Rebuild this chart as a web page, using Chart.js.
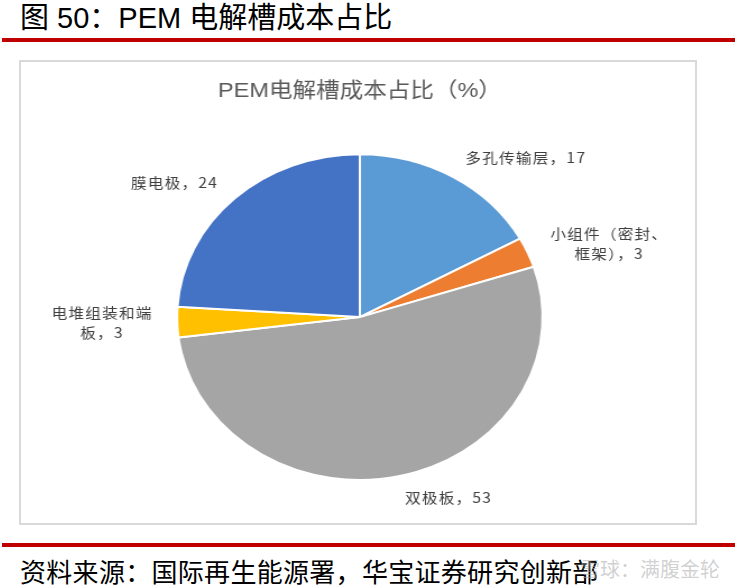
<!DOCTYPE html>
<html>
<head>
<meta charset="utf-8">
<script src="https://cdn.jsdelivr.net/npm/chart.js@4"></script>
<style>
  body { margin: 0; width: 738px; height: 588px; background: #fff; position: relative; overflow: hidden;
         font-family: "Liberation Sans", "Noto Sans CJK SC", sans-serif; }
  .head { position: absolute; left: 20px; top: -1px; font-size: 29px; line-height: 38px; color: #000; white-space: nowrap; }
  .rule { position: absolute; left: 2px; width: 733px; height: 4px; background: #c00000; }
  .box { position: absolute; left: 19px; top: 60px; width: 674px; height: 461px; border: 2px solid #d9d9d9; }
  .wrap { position: absolute; left: 0; top: 0; width: 604px; height: 461px; transform: scaleX(1.122); transform-origin: 0 0; }
  .src { position: absolute; left: 20px; top: 552px; font-size: 26px; letter-spacing: 0.3px; color: #000; white-space: nowrap; }
  .wm { position: absolute; left: 580px; top: 554px; font-size: 20px; color: rgba(170,170,170,0.55); white-space: nowrap; }
</style>
</head>
<body>
<div class="head">图 50：PEM 电解槽成本占比</div>
<div class="rule" style="top:38px"></div>
<div class="box"><div class="wrap"><canvas id="pieChart" width="604" height="461"></canvas></div></div>
<div class="rule" style="top:543px"></div>
<div class="src">资料来源：国际再生能源署，华宝证券研究创新部</div>
<div class="wm">雪球：满腹金轮</div>
<script>
// 成本构成（%），从12点方向顺时针
const categories = ['多孔传输层', '小组件（密封、\n框架）', '双极板', '电堆组装和端\n板', '膜电极'];
const shares = [17, 3, 53, 3, 24];
const colors = ['#5b9bd5', '#ed7d31', '#a5a5a5', '#ffc000', '#4472c4'];

// 外部数据标签：名称，数值
const outsideLabels = {
  id: 'outsideLabels',
  afterDatasetsDraw(chart) {
    const ctx = chart.ctx;
    const arcs = chart.getDatasetMeta(0).data;
    ctx.save();
    ctx.font = '14px "Noto Sans CJK SC", sans-serif';
    ctx.letterSpacing = '1px';
    ctx.fillStyle = '#404040';
    ctx.textBaseline = 'middle';
    ctx.textAlign = 'center';
    arcs.forEach((arc, i) => {
      const mid = (arc.startAngle + arc.endAngle) / 2;
      const r = arc.outerRadius + 22;
      const ax = arc.x + Math.cos(mid) * r;
      const ay = arc.y + Math.sin(mid) * r;
      const lines = (categories[i] + '，' + shares[i]).split('\n');
      const w = Math.max(...lines.map((l) => ctx.measureText(l).width));
      const lh = 20;
      const cx = Math.cos(mid) >= 0 ? ax + w / 2 : ax - w / 2;
      const top = ay - (lines.length - 1) * lh / 2;
      lines.forEach((l, k) => ctx.fillText(l, cx, top + k * lh));
    });
    ctx.restore();
  },
};

const pieCtx = document.getElementById('pieChart').getContext('2d');
new Chart(pieCtx, {
  type: 'pie',
  data: {
    labels: categories.map((c) => c.replace('\n', '')),
    datasets: [
      {
        data: shares,
        backgroundColor: colors,
        borderColor: '#ffffff',
        borderWidth: 2,
        hoverOffset: 0,
      },
    ],
  },
  options: {
    responsive: false,
    devicePixelRatio: 1,
    animation: false,
    layout: { padding: { top: 0, bottom: 42 } },
    plugins: {
      legend: { display: false },
      tooltip: { enabled: false },
      title: {
        display: true,
        text: 'PEM电解槽成本占比（%）',
        color: '#595959',
        font: { size: 21, family: '"Liberation Sans", "Noto Sans CJK SC", sans-serif', weight: 'normal' },
        padding: { top: 17, bottom: 49 },
      },
    },
  },
  plugins: [outsideLabels],
});
</script>
</body>
</html>
